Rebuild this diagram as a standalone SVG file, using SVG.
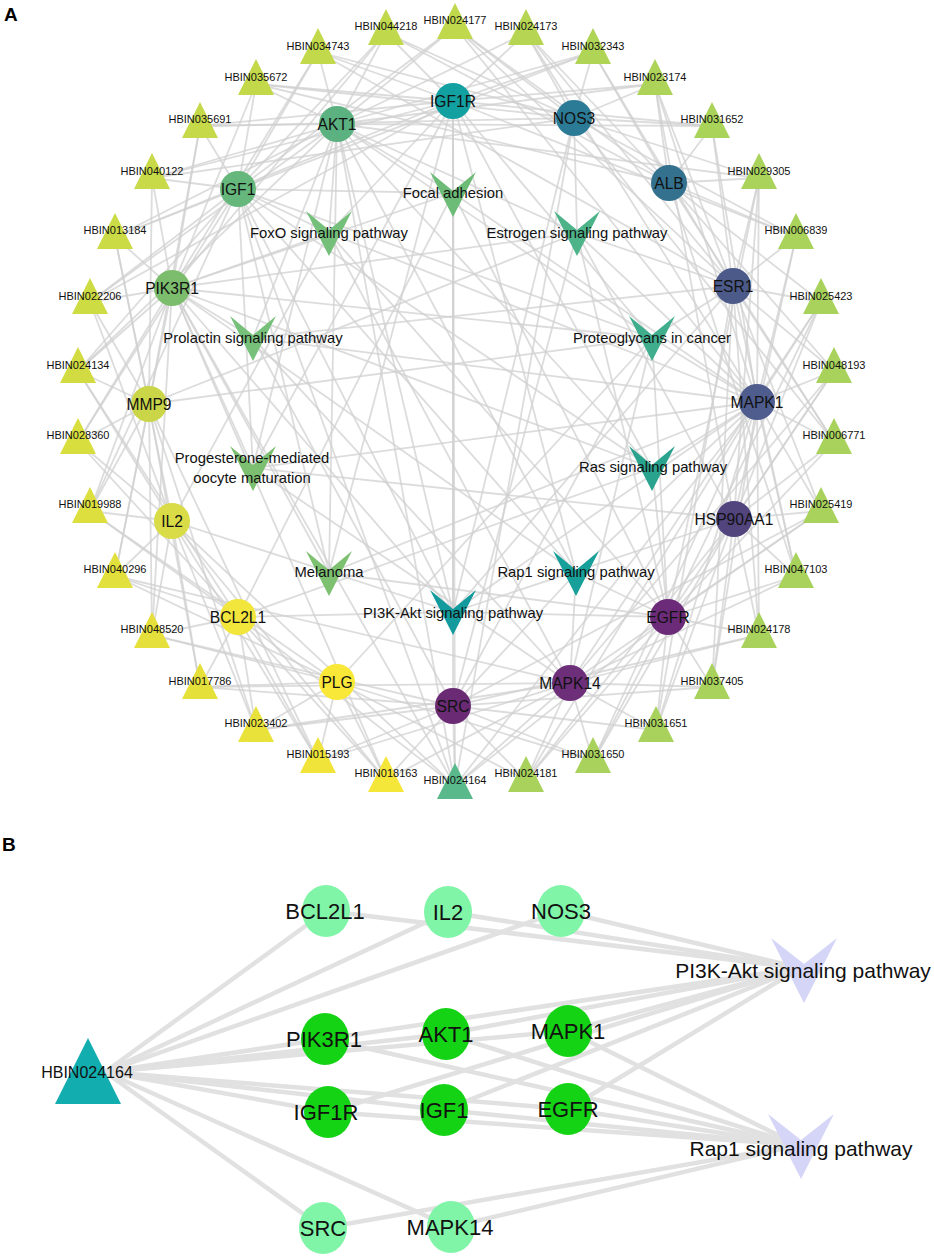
<svg xmlns="http://www.w3.org/2000/svg" xmlns:xlink="http://www.w3.org/1999/xlink" width="934" height="1257" viewBox="0 0 934 1257">
<style>
.e{stroke:#d0d0d0;stroke-width:1.8;fill:none;opacity:.75}
.eb{stroke:#e1e1e1;stroke-width:4.5;fill:none}
.t{font-family:"Liberation Sans",Arial,sans-serif;fill:#111;text-anchor:middle;dominant-baseline:central}
.s{font-size:11px}
.m{font-size:15.6px}
.p{font-size:14.8px}
.bl{font-size:22px}
.bp{font-size:21px}
.pl{font-family:"Liberation Sans",Arial,sans-serif;font-weight:bold;font-size:19px;fill:#000}
</style>
<defs>
<polygon id="tri" points="-18,36 0,0 18,36"/>
<path id="vee" d="M-23 0L0 19L23 0L0 45Z"/>
<path id="veeB" d="M-33 0L0 26L33 0L0 65Z"/>
<polygon id="triB" points="-33,66 0,0 33,66"/>
</defs>
<rect width="934" height="1257" fill="#fff"/>
<text class="pl" x="4" y="21">A</text>
<text class="pl" x="2" y="851">B</text>

<g id="connectors-A">
<path class="e" d="M455 27L574 118"/><path class="e" d="M455 27L669 183"/><path class="e" d="M455 27L337 124"/><path class="e" d="M455 27L733 286"/><path class="e" d="M455 27L238 189"/><path class="e" d="M455 27L757 402"/>
<path class="e" d="M526 33L453 101"/><path class="e" d="M526 33L337 124"/><path class="e" d="M526 33L669 183"/><path class="e" d="M526 33L733 286"/><path class="e" d="M526 33L757 402"/><path class="e" d="M526 33L574 118"/>
<path class="e" d="M593 52L453 101"/><path class="e" d="M593 52L238 189"/><path class="e" d="M593 52L669 183"/><path class="e" d="M593 52L733 286"/><path class="e" d="M593 52L337 124"/><path class="e" d="M593 52L574 118"/>
<path class="e" d="M655 84L574 118"/><path class="e" d="M655 84L337 124"/><path class="e" d="M655 84L669 183"/><path class="e" d="M655 84L757 402"/><path class="e" d="M655 84L734 519"/><path class="e" d="M655 84L453 101"/><path class="e" d="M655 84L733 286"/>
<path class="e" d="M712 126L574 118"/><path class="e" d="M712 126L453 101"/><path class="e" d="M712 126L733 286"/><path class="e" d="M712 126L757 402"/><path class="e" d="M712 126L669 183"/><path class="e" d="M712 126L337 124"/>
<path class="e" d="M759 178L574 118"/><path class="e" d="M759 178L337 124"/><path class="e" d="M759 178L733 286"/><path class="e" d="M759 178L734 519"/><path class="e" d="M759 178L668 617"/><path class="e" d="M759 178L669 183"/><path class="e" d="M759 178L757 402"/>
<path class="e" d="M796 237L669 183"/><path class="e" d="M796 237L574 118"/><path class="e" d="M796 237L757 402"/><path class="e" d="M796 237L734 519"/><path class="e" d="M796 237L733 286"/><path class="e" d="M796 237L453 101"/>
<path class="e" d="M821 302L669 183"/><path class="e" d="M821 302L733 286"/><path class="e" d="M821 302L757 402"/><path class="e" d="M821 302L668 617"/><path class="e" d="M821 302L570 683"/><path class="e" d="M821 302L734 519"/>
<path class="e" d="M834 371L733 286"/><path class="e" d="M834 371L669 183"/><path class="e" d="M834 371L734 519"/><path class="e" d="M834 371L668 617"/><path class="e" d="M834 371L757 402"/><path class="e" d="M834 371L570 683"/>
<path class="e" d="M834 442L733 286"/><path class="e" d="M834 442L757 402"/><path class="e" d="M834 442L668 617"/><path class="e" d="M834 442L574 118"/><path class="e" d="M834 442L734 519"/><path class="e" d="M834 442L669 183"/>
<path class="e" d="M821 511L757 402"/><path class="e" d="M821 511L733 286"/><path class="e" d="M821 511L570 683"/><path class="e" d="M821 511L668 617"/><path class="e" d="M821 511L734 519"/><path class="e" d="M821 511L453 706"/>
<path class="e" d="M796 576L757 402"/><path class="e" d="M796 576L734 519"/><path class="e" d="M796 576L570 683"/><path class="e" d="M796 576L669 183"/><path class="e" d="M796 576L668 617"/><path class="e" d="M796 576L733 286"/>
<path class="e" d="M759 635L734 519"/><path class="e" d="M759 635L733 286"/><path class="e" d="M759 635L570 683"/><path class="e" d="M759 635L453 706"/><path class="e" d="M759 635L668 617"/><path class="e" d="M759 635L757 402"/>
<path class="e" d="M712 687L668 617"/><path class="e" d="M712 687L757 402"/><path class="e" d="M712 687L734 519"/><path class="e" d="M712 687L453 706"/><path class="e" d="M712 687L570 683"/><path class="e" d="M712 687L733 286"/>
<path class="e" d="M656 730L668 617"/><path class="e" d="M656 730L734 519"/><path class="e" d="M656 730L570 683"/><path class="e" d="M656 730L757 402"/><path class="e" d="M656 730L453 706"/><path class="e" d="M656 730L733 286"/>
<path class="e" d="M593 761L668 617"/><path class="e" d="M593 761L570 683"/><path class="e" d="M593 761L757 402"/><path class="e" d="M593 761L453 706"/><path class="e" d="M593 761L734 519"/><path class="e" d="M593 761L337 682"/>
<path class="e" d="M526 780L570 683"/><path class="e" d="M526 780L668 617"/><path class="e" d="M526 780L734 519"/><path class="e" d="M526 780L337 682"/><path class="e" d="M526 780L453 706"/><path class="e" d="M526 780L757 402"/>
<path class="e" d="M455 786L238 617"/><path class="e" d="M455 786L172 521"/><path class="e" d="M455 786L574 118"/><path class="e" d="M455 786L172 288"/><path class="e" d="M455 786L337 124"/><path class="e" d="M455 786L757 402"/><path class="e" d="M455 786L453 101"/><path class="e" d="M455 786L238 189"/><path class="e" d="M455 786L668 617"/><path class="e" d="M455 786L453 706"/><path class="e" d="M455 786L570 683"/>
<path class="e" d="M386 780L337 682"/><path class="e" d="M386 780L453 706"/><path class="e" d="M386 780L238 617"/><path class="e" d="M386 780L172 521"/><path class="e" d="M386 780L570 683"/><path class="e" d="M386 780L172 288"/>
<path class="e" d="M318 761L337 682"/><path class="e" d="M318 761L172 521"/><path class="e" d="M318 761L453 706"/><path class="e" d="M318 761L570 683"/><path class="e" d="M318 761L238 617"/><path class="e" d="M318 761L149 404"/>
<path class="e" d="M256 730L337 682"/><path class="e" d="M256 730L238 617"/><path class="e" d="M256 730L453 706"/><path class="e" d="M256 730L149 404"/><path class="e" d="M256 730L172 521"/><path class="e" d="M256 730L570 683"/>
<path class="e" d="M200 687L238 617"/><path class="e" d="M200 687L337 682"/><path class="e" d="M200 687L172 521"/><path class="e" d="M200 687L570 683"/><path class="e" d="M200 687L149 404"/><path class="e" d="M200 687L453 706"/>
<path class="e" d="M152 635L238 617"/><path class="e" d="M152 635L172 521"/><path class="e" d="M152 635L337 682"/><path class="e" d="M152 635L149 404"/><path class="e" d="M152 635L172 288"/><path class="e" d="M152 635L453 706"/>
<path class="e" d="M115 576L172 521"/><path class="e" d="M115 576L149 404"/><path class="e" d="M115 576L238 617"/><path class="e" d="M115 576L337 682"/><path class="e" d="M115 576L172 288"/><path class="e" d="M115 576L570 683"/>
<path class="e" d="M90 511L172 521"/><path class="e" d="M90 511L149 404"/><path class="e" d="M90 511L172 288"/><path class="e" d="M90 511L337 682"/><path class="e" d="M90 511L238 617"/><path class="e" d="M90 511L238 189"/>
<path class="e" d="M78 442L149 404"/><path class="e" d="M78 442L172 521"/><path class="e" d="M78 442L172 288"/><path class="e" d="M78 442L238 617"/><path class="e" d="M78 442L238 189"/>
<path class="e" d="M78 371L149 404"/><path class="e" d="M78 371L172 288"/><path class="e" d="M78 371L238 189"/><path class="e" d="M78 371L172 521"/><path class="e" d="M78 371L337 124"/><path class="e" d="M78 371L238 617"/>
<path class="e" d="M90 302L172 288"/><path class="e" d="M90 302L149 404"/><path class="e" d="M90 302L238 189"/><path class="e" d="M90 302L337 124"/><path class="e" d="M90 302L172 521"/><path class="e" d="M90 302L453 101"/>
<path class="e" d="M115 237L172 288"/><path class="e" d="M115 237L238 189"/><path class="e" d="M115 237L337 124"/><path class="e" d="M115 237L149 404"/><path class="e" d="M115 237L453 101"/><path class="e" d="M115 237L172 521"/>
<path class="e" d="M152 178L238 189"/><path class="e" d="M152 178L337 124"/><path class="e" d="M152 178L172 288"/><path class="e" d="M152 178L453 101"/><path class="e" d="M152 178L149 404"/><path class="e" d="M152 178L574 118"/>
<path class="e" d="M200 126L238 189"/><path class="e" d="M200 126L337 124"/><path class="e" d="M200 126L453 101"/><path class="e" d="M200 126L172 288"/><path class="e" d="M200 126L574 118"/><path class="e" d="M200 126L149 404"/>
<path class="e" d="M256 84L337 124"/><path class="e" d="M256 84L238 189"/><path class="e" d="M256 84L453 101"/><path class="e" d="M256 84L574 118"/><path class="e" d="M256 84L172 288"/><path class="e" d="M256 84L669 183"/>
<path class="e" d="M318 52L337 124"/><path class="e" d="M318 52L453 101"/><path class="e" d="M318 52L238 189"/><path class="e" d="M318 52L574 118"/><path class="e" d="M318 52L172 288"/><path class="e" d="M318 52L733 286"/>
<path class="e" d="M386 33L337 124"/><path class="e" d="M386 33L453 101"/><path class="e" d="M386 33L574 118"/><path class="e" d="M386 33L238 189"/><path class="e" d="M386 33L172 288"/><path class="e" d="M386 33L669 183"/>
<path class="e" d="M453 612L238 617"/><path class="e" d="M453 612L172 521"/><path class="e" d="M453 612L574 118"/><path class="e" d="M453 612L172 288"/><path class="e" d="M453 612L337 124"/><path class="e" d="M453 612L757 402"/><path class="e" d="M453 612L453 101"/><path class="e" d="M453 612L238 189"/><path class="e" d="M453 612L668 617"/><path class="e" d="M453 612L734 519"/><path class="e" d="M453 612L733 286"/>
<path class="e" d="M576 573L172 288"/><path class="e" d="M576 573L337 124"/><path class="e" d="M576 573L757 402"/><path class="e" d="M576 573L453 101"/><path class="e" d="M576 573L238 189"/><path class="e" d="M576 573L668 617"/><path class="e" d="M576 573L453 706"/><path class="e" d="M576 573L570 683"/>
<path class="e" d="M453 193L172 288"/><path class="e" d="M453 193L337 124"/><path class="e" d="M453 193L757 402"/><path class="e" d="M453 193L453 101"/><path class="e" d="M453 193L238 189"/><path class="e" d="M453 193L668 617"/><path class="e" d="M453 193L453 706"/><path class="e" d="M453 193L238 617"/>
<path class="e" d="M329 233L337 124"/><path class="e" d="M329 233L238 189"/><path class="e" d="M329 233L453 101"/><path class="e" d="M329 233L172 288"/><path class="e" d="M329 233L757 402"/><path class="e" d="M329 233L570 683"/><path class="e" d="M329 233L668 617"/><path class="e" d="M329 233L172 521"/>
<path class="e" d="M577 233L733 286"/><path class="e" d="M577 233L574 118"/><path class="e" d="M577 233L337 124"/><path class="e" d="M577 233L172 288"/><path class="e" d="M577 233L757 402"/><path class="e" d="M577 233L453 706"/><path class="e" d="M577 233L734 519"/><path class="e" d="M577 233L668 617"/><path class="e" d="M577 233L149 404"/>
<path class="e" d="M253 338L733 286"/><path class="e" d="M253 338L337 124"/><path class="e" d="M253 338L172 288"/><path class="e" d="M253 338L757 402"/><path class="e" d="M253 338L570 683"/><path class="e" d="M253 338L453 706"/>
<path class="e" d="M652 338L337 124"/><path class="e" d="M652 338L172 288"/><path class="e" d="M652 338L757 402"/><path class="e" d="M652 338L570 683"/><path class="e" d="M652 338L238 189"/><path class="e" d="M652 338L453 101"/><path class="e" d="M652 338L668 617"/><path class="e" d="M652 338L453 706"/><path class="e" d="M652 338L149 404"/><path class="e" d="M652 338L733 286"/><path class="e" d="M652 338L337 682"/>
<path class="e" d="M253 468L337 124"/><path class="e" d="M253 468L172 288"/><path class="e" d="M253 468L238 189"/><path class="e" d="M253 468L453 101"/><path class="e" d="M253 468L757 402"/><path class="e" d="M253 468L570 683"/><path class="e" d="M253 468L734 519"/>
<path class="e" d="M652 468L337 124"/><path class="e" d="M652 468L172 288"/><path class="e" d="M652 468L757 402"/><path class="e" d="M652 468L238 189"/><path class="e" d="M652 468L453 101"/><path class="e" d="M652 468L668 617"/><path class="e" d="M652 468L238 617"/>
<path class="e" d="M329 573L337 124"/><path class="e" d="M329 573L172 288"/><path class="e" d="M329 573L238 189"/><path class="e" d="M329 573L453 101"/><path class="e" d="M329 573L757 402"/><path class="e" d="M329 573L668 617"/>
</g>

<g id="herbs">
<g id="HBIN024177"><use href="#tri" x="455" y="3" fill="#c0d84c"/><text class="t s" x="455" y="20">HBIN024177</text></g>
<g id="HBIN024173"><use href="#tri" x="526" y="9" fill="#b6d552"/><text class="t s" x="526" y="26">HBIN024173</text></g>
<g id="HBIN032343"><use href="#tri" x="593" y="28" fill="#b0d456"/><text class="t s" x="593" y="46">HBIN032343</text></g>
<g id="HBIN023174"><use href="#tri" x="655" y="59" fill="#add459"/><text class="t s" x="655" y="77">HBIN023174</text></g>
<g id="HBIN031652"><use href="#tri" x="712" y="102" fill="#aad35a"/><text class="t s" x="712" y="119">HBIN031652</text></g>
<g id="HBIN029305"><use href="#tri" x="759" y="153" fill="#a9d35b"/><text class="t s" x="759" y="171">HBIN029305</text></g>
<g id="HBIN006839"><use href="#tri" x="796" y="213" fill="#a9d35b"/><text class="t s" x="796" y="230">HBIN006839</text></g>
<g id="HBIN025423"><use href="#tri" x="821" y="278" fill="#a8d25b"/><text class="t s" x="821" y="296">HBIN025423</text></g>
<g id="HBIN048193"><use href="#tri" x="834" y="347" fill="#a8d25b"/><text class="t s" x="834" y="365">HBIN048193</text></g>
<g id="HBIN006771"><use href="#tri" x="834" y="418" fill="#a8d25b"/><text class="t s" x="834" y="435">HBIN006771</text></g>
<g id="HBIN025419"><use href="#tri" x="821" y="487" fill="#a8d25b"/><text class="t s" x="821" y="504">HBIN025419</text></g>
<g id="HBIN047103"><use href="#tri" x="796" y="552" fill="#a8d25b"/><text class="t s" x="796" y="569">HBIN047103</text></g>
<g id="HBIN024178"><use href="#tri" x="759" y="612" fill="#a8d25b"/><text class="t s" x="759" y="629">HBIN024178</text></g>
<g id="HBIN037405"><use href="#tri" x="712" y="663" fill="#a8d25b"/><text class="t s" x="712" y="681">HBIN037405</text></g>
<g id="HBIN031651"><use href="#tri" x="656" y="706" fill="#a8d25b"/><text class="t s" x="656" y="723">HBIN031651</text></g>
<g id="HBIN031650"><use href="#tri" x="593" y="737" fill="#a8d25b"/><text class="t s" x="593" y="754">HBIN031650</text></g>
<g id="HBIN024181"><use href="#tri" x="526" y="756" fill="#a8d25b"/><text class="t s" x="526" y="773">HBIN024181</text></g>
<g id="HBIN024164"><use href="#tri" x="455" y="763" fill="#5ab98a"/><text class="t s" x="455" y="780">HBIN024164</text></g>
<g id="HBIN018163"><use href="#tri" x="386" y="756" fill="#f5e63a"/><text class="t s" x="386" y="773">HBIN018163</text></g>
<g id="HBIN015193"><use href="#tri" x="318" y="737" fill="#f0e43a"/><text class="t s" x="318" y="754">HBIN015193</text></g>
<g id="HBIN023402"><use href="#tri" x="256" y="706" fill="#e8e23a"/><text class="t s" x="256" y="723">HBIN023402</text></g>
<g id="HBIN017786"><use href="#tri" x="200" y="663" fill="#e6e03b"/><text class="t s" x="200" y="681">HBIN017786</text></g>
<g id="HBIN048520"><use href="#tri" x="152" y="612" fill="#e5e03c"/><text class="t s" x="152" y="629">HBIN048520</text></g>
<g id="HBIN040296"><use href="#tri" x="115" y="552" fill="#e2e03c"/><text class="t s" x="115" y="569">HBIN040296</text></g>
<g id="HBIN019988"><use href="#tri" x="90" y="487" fill="#dcdf3e"/><text class="t s" x="90" y="504">HBIN019988</text></g>
<g id="HBIN028360"><use href="#tri" x="78" y="418" fill="#d9de3f"/><text class="t s" x="78" y="435">HBIN028360</text></g>
<g id="HBIN024134"><use href="#tri" x="78" y="347" fill="#d2dc42"/><text class="t s" x="78" y="365">HBIN024134</text></g>
<g id="HBIN022206"><use href="#tri" x="90" y="278" fill="#cedc43"/><text class="t s" x="90" y="296">HBIN022206</text></g>
<g id="HBIN013184"><use href="#tri" x="115" y="213" fill="#cbdb45"/><text class="t s" x="115" y="230">HBIN013184</text></g>
<g id="HBIN040122"><use href="#tri" x="152" y="153" fill="#c8da47"/><text class="t s" x="152" y="171">HBIN040122</text></g>
<g id="HBIN035691"><use href="#tri" x="200" y="102" fill="#c5d949"/><text class="t s" x="200" y="119">HBIN035691</text></g>
<g id="HBIN035672"><use href="#tri" x="256" y="59" fill="#c3d94a"/><text class="t s" x="256" y="77">HBIN035672</text></g>
<g id="HBIN034743"><use href="#tri" x="318" y="28" fill="#c2d94b"/><text class="t s" x="318" y="46">HBIN034743</text></g>
<g id="HBIN044218"><use href="#tri" x="386" y="9" fill="#c0d84c"/><text class="t s" x="386" y="26">HBIN044218</text></g>
</g>

<g id="pathways">
<g id="Focal_adhesion"><use href="#vee" x="453" y="172" fill="#6cbc78"/><text class="t p" x="453" y="193">Focal adhesion</text></g>
<g id="FoxO"><use href="#vee" x="329" y="211" fill="#74c07a"/><text class="t p" x="329" y="233">FoxO signaling pathway</text></g>
<g id="Estrogen"><use href="#vee" x="577" y="211" fill="#4db388"/><text class="t p" x="577" y="233">Estrogen signaling pathway</text></g>
<g id="Prolactin"><use href="#vee" x="253" y="316" fill="#77c07a"/><text class="t p" x="253" y="338">Prolactin signaling pathway</text></g>
<g id="Proteoglycans"><use href="#vee" x="652" y="316" fill="#40ae8d"/><text class="t p" x="652" y="338">Proteoglycans in cancer</text></g>
<g id="Progesterone"><use href="#vee" x="253" y="446" fill="#7cbf70"/><text class="t p" x="252" y="458">Progesterone-mediated</text><text class="t p" x="252" y="478">oocyte maturation</text></g>
<g id="Ras"><use href="#vee" x="652" y="446" fill="#2aa38e"/><text class="t p" x="653" y="467">Ras signaling pathway</text></g>
<g id="Melanoma"><use href="#vee" x="329" y="551" fill="#7cc070"/><text class="t p" x="329" y="572">Melanoma</text></g>
<g id="Rap1"><use href="#vee" x="576" y="551" fill="#17a09a"/><text class="t p" x="576" y="572">Rap1 signaling pathway</text></g>
<g id="PI3K_Akt"><use href="#vee" x="453" y="590" fill="#129a9c"/><text class="t p" x="453" y="613">PI3K-Akt signaling pathway</text></g>
</g>

<g id="targets">
<g id="AKT1"><circle cx="337" cy="124" r="18" fill="#5bb17f"/><text class="t m" x="337" y="124">AKT1</text></g>
<g id="IGF1R"><circle cx="453" cy="101" r="18" fill="#13a0a1"/><text class="t m" x="453" y="101">IGF1R</text></g>
<g id="NOS3"><circle cx="574" cy="118" r="18" fill="#2b7b96"/><text class="t m" x="574" y="118">NOS3</text></g>
<g id="IGF1"><circle cx="238" cy="189" r="18" fill="#66b77b"/><text class="t m" x="238" y="189">IGF1</text></g>
<g id="ALB"><circle cx="669" cy="183" r="18" fill="#33718f"/><text class="t m" x="669" y="183">ALB</text></g>
<g id="PIK3R1"><circle cx="172" cy="288" r="18" fill="#7cbd6d"/><text class="t m" x="172" y="288">PIK3R1</text></g>
<g id="ESR1"><circle cx="733" cy="286" r="18" fill="#4c5a8a"/><text class="t m" x="733" y="286">ESR1</text></g>
<g id="MMP9"><circle cx="149" cy="404" r="18" fill="#cad548"/><text class="t m" x="149" y="404">MMP9</text></g>
<g id="MAPK1"><circle cx="757" cy="402" r="18" fill="#4e5c8e"/><text class="t m" x="757" y="402">MAPK1</text></g>
<g id="IL2"><circle cx="172" cy="521" r="18" fill="#d9dc47"/><text class="t m" x="172" y="521">IL2</text></g>
<g id="HSP90AA1"><circle cx="734" cy="519" r="18" fill="#52447d"/><text class="t m" x="734" y="519">HSP90AA1</text></g>
<g id="BCL2L1"><circle cx="238" cy="617" r="18" fill="#f2e53c"/><text class="t m" x="238" y="617">BCL2L1</text></g>
<g id="EGFR"><circle cx="668" cy="617" r="18" fill="#6b2b79"/><text class="t m" x="668" y="617">EGFR</text></g>
<g id="PLG"><circle cx="337" cy="682" r="18" fill="#f9e838"/><text class="t m" x="337" y="682">PLG</text></g>
<g id="MAPK14"><circle cx="570" cy="683" r="18" fill="#6d2e7a"/><text class="t m" x="570" y="683">MAPK14</text></g>
<g id="SRC"><circle cx="453" cy="706" r="18" fill="#6a2b74"/><text class="t m" x="453" y="706">SRC</text></g>
</g>

<g id="connectors-B">
<path class="eb" d="M105 1072L326 911"/><path class="eb" d="M105 1072L448 912"/><path class="eb" d="M105 1072L561 911"/>
<path class="eb" d="M105 1072L325 1039"/><path class="eb" d="M105 1072L446 1034"/><path class="eb" d="M105 1072L568 1031"/>
<path class="eb" d="M105 1072L328 1112"/><path class="eb" d="M105 1072L444 1110"/><path class="eb" d="M105 1072L568 1109"/>
<path class="eb" d="M105 1072L323 1228"/><path class="eb" d="M105 1072L451 1227"/>
<path class="eb" d="M326 911L800 968"/><path class="eb" d="M448 912L800 968"/><path class="eb" d="M561 911L800 968"/>
<path class="eb" d="M325 1039L800 968"/><path class="eb" d="M446 1034L800 968"/><path class="eb" d="M568 1031L800 968"/>
<path class="eb" d="M328 1112L800 968"/><path class="eb" d="M444 1110L800 968"/><path class="eb" d="M568 1109L800 968"/>
<path class="eb" d="M325 1039L798 1145"/><path class="eb" d="M446 1034L798 1145"/><path class="eb" d="M568 1031L798 1145"/>
<path class="eb" d="M328 1112L798 1145"/><path class="eb" d="M444 1110L798 1145"/><path class="eb" d="M568 1109L798 1145"/>
<path class="eb" d="M323 1228L798 1145"/><path class="eb" d="M451 1227L798 1145"/>
</g>

<g id="panelB">
<g id="B_HBIN024164"><use href="#triB" x="88" y="1038" fill="#12aeaf"/><text class="t" style="font-size:16px" x="87" y="1072">HBIN024164</text></g>
<g id="B_BCL2L1"><ellipse cx="326" cy="911" rx="24" ry="26" fill="#80f5a8"/><text class="t bl" x="325" y="911">BCL2L1</text></g>
<g id="B_IL2"><ellipse cx="448" cy="912" rx="24" ry="26" fill="#80f5a8"/><text class="t bl" x="448" y="912">IL2</text></g>
<g id="B_NOS3"><ellipse cx="561" cy="911" rx="24" ry="26" fill="#80f5a8"/><text class="t bl" x="561" y="911">NOS3</text></g>
<g id="B_PIK3R1"><ellipse cx="325" cy="1039" rx="24" ry="26" fill="#14d314"/><text class="t bl" x="324" y="1039">PIK3R1</text></g>
<g id="B_AKT1"><ellipse cx="446" cy="1034" rx="24" ry="26" fill="#14d314"/><text class="t bl" x="446" y="1034">AKT1</text></g>
<g id="B_MAPK1"><ellipse cx="568" cy="1031" rx="24" ry="26" fill="#14d314"/><text class="t bl" x="568" y="1031">MAPK1</text></g>
<g id="B_IGF1R"><ellipse cx="328" cy="1112" rx="24" ry="26" fill="#14d314"/><text class="t bl" x="326" y="1112">IGF1R</text></g>
<g id="B_IGF1"><ellipse cx="444" cy="1110" rx="24" ry="26" fill="#14d314"/><text class="t bl" x="444" y="1110">IGF1</text></g>
<g id="B_EGFR"><ellipse cx="568" cy="1109" rx="24" ry="26" fill="#14d314"/><text class="t bl" x="568" y="1109">EGFR</text></g>
<g id="B_SRC"><ellipse cx="323" cy="1228" rx="24" ry="26" fill="#80f5a8"/><text class="t bl" x="323" y="1228">SRC</text></g>
<g id="B_MAPK14"><ellipse cx="451" cy="1227" rx="24" ry="26" fill="#80f5a8"/><text class="t bl" x="450" y="1227">MAPK14</text></g>
<g id="B_PI3K_Akt"><use href="#veeB" x="804" y="938" fill="#d5d5f7"/><text class="t bp" x="803" y="970">PI3K-Akt signaling pathway</text></g>
<g id="B_Rap1"><use href="#veeB" x="801" y="1114" fill="#d5d5f7"/><text class="t bp" x="801" y="1148">Rap1 signaling pathway</text></g>
</g>
</svg>
